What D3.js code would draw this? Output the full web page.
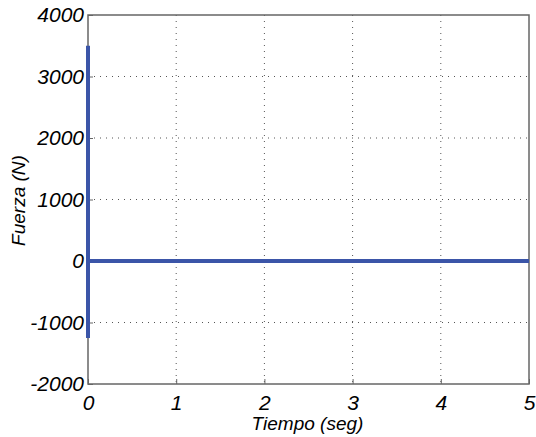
<!DOCTYPE html>
<html>
<head>
<meta charset="utf-8">
<script src="https://cdn.jsdelivr.net/npm/d3@7"></script>
<style>
  body { margin: 0; background: #fff; }
  svg { display: block; }
  .tick text { font-family: "Liberation Sans Narrow", "Liberation Sans", Arial, sans-serif; font-style: italic; font-size: 21px; fill: #000; }
  .lbl { font-family: "Liberation Sans", Arial, sans-serif; font-style: italic; font-size: 19px; fill: #000; }
</style>
</head>
<body>
<svg id="chart"></svg>
<script>
// data
var tiempo = [0, 0, 0, 5];
var fuerza = [3500, -1250, 0, 0];
var xTicks = [0, 1, 2, 3, 4, 5];
var yTicks = [-2000, -1000, 0, 1000, 2000, 3000, 4000];

var width = 536, height = 437;
var margin = {top: 15, right: 7, bottom: 53, left: 88};
var w = width - margin.left - margin.right,
    h = height - margin.top - margin.bottom;

var svg = d3.select("#chart").attr("width", width).attr("height", height);
var g = svg.append("g").attr("transform", "translate(" + margin.left + "," + margin.top + ")");

var x = d3.scaleLinear().domain([0, 5]).range([0, w]);
var y = d3.scaleLinear().domain([-2000, 4000]).range([h, 0]);

// grid
g.selectAll(".gx").data(xTicks.slice(1, -1)).enter().append("line")
  .attr("x1", function(d){ return x(d); }).attr("x2", function(d){ return x(d); })
  .attr("y1", 0).attr("y2", h)
  .attr("stroke", "#555").attr("stroke-dasharray", "1,5");
g.selectAll(".gy").data(yTicks.slice(1, -1)).enter().append("line")
  .attr("y1", function(d){ return y(d); }).attr("y2", function(d){ return y(d); })
  .attr("x1", 0).attr("x2", w)
  .attr("stroke", "#555").attr("stroke-dasharray", "1,5");

// box
g.append("rect").attr("width", w).attr("height", h)
  .attr("fill", "none").attr("stroke", "#666").attr("stroke-width", 1.5);

var fmt = function(d){ return String(d); };  // plain hyphen minus, like the original
var xAxis = g.append("g").attr("transform", "translate(0," + h + ")")
  .call(d3.axisBottom(x).tickValues(xTicks).tickFormat(fmt).tickSizeInner(-5).tickSizeOuter(0).tickPadding(11));
var yAxis = g.append("g")
  .call(d3.axisLeft(y).tickValues(yTicks).tickFormat(fmt).tickSizeInner(-5).tickSizeOuter(0).tickPadding(4));
[xAxis, yAxis].forEach(function(a){
  a.select(".domain").remove();
  a.selectAll(".tick line").attr("stroke", "#666");
});

// series
var line = d3.line().x(function(d){ return x(d[0]); }).y(function(d){ return y(d[1]); });
g.append("path")
  .datum(d3.zip(tiempo, fuerza))
  .attr("d", line)
  .attr("fill", "none")
  .attr("stroke", "#3b55a8")
  .attr("stroke-width", 4);

// labels
svg.append("text").attr("class", "lbl")
  .attr("x", margin.left + w / 2 - 1).attr("y", 430)
  .attr("text-anchor", "middle").text("Tiempo (seg)");
svg.append("text").attr("class", "lbl")
  .attr("transform", "translate(25," + (margin.top + h / 2 + 1) + ") rotate(-90)")
  .attr("text-anchor", "middle").text("Fuerza (N)");
</script>
</body>
</html>
